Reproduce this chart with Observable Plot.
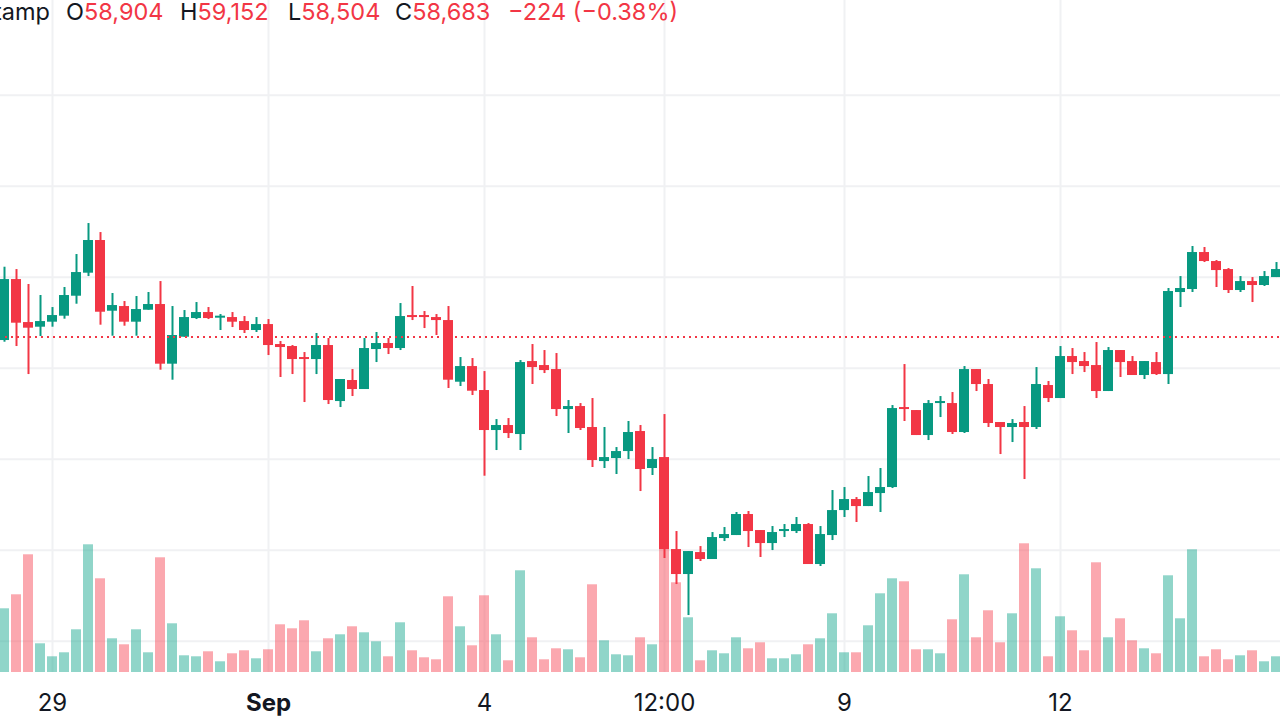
<!DOCTYPE html>
<html><head><meta charset="utf-8">
<script src="https://cdn.jsdelivr.net/npm/d3@7"></script>
<script src="https://cdn.jsdelivr.net/npm/@observablehq/plot@0.6"></script>
<style>
html,body{margin:0;padding:0;background:#fff;overflow:hidden;}
#wrap{position:relative;width:1280px;height:720px;font-family:Inter,sans-serif;overflow:hidden;}
#wrap svg{position:absolute;left:0;top:0;}
#legend{position:absolute;left:0;top:0;width:1280px;height:34px;font-size:23.5px;line-height:24px;z-index:5;color:#131722;}
#legend span.item{position:absolute;top:0;white-space:nowrap;}
.r{color:#F23645}
</style></head><body><div id="wrap"><div id="legend"></div></div>
<script>
// ---- data (4h candles, Bitstamp BTC) ----
const START = Date.UTC(2024, 7, 28, 8);   // first candle: Aug 28 08:00 UTC
const STEP = 4 * 3600 * 1000;             // 4-hour candles

const open = [58608,59948,59003,58901,59011,59143,59582,60088,60806,59252,59355,59011,59274,59399,58088,58681,59091,59223,59099,59113,
59025,58828,58959,58520,58476,58234,58190,58498,57267,57729,57531,58410,58542,58432,59157,59157,59113,59047,57692,58036,
57509,56630,56740,56542,58146,58058,57970,57091,57157,56696,55948,56014,56168,56608,55795,56036,54014,53465,53948,53795,
54256,54322,54784,54432,54146,54410,54410,54564,53685,54322,54871,55113,54959,55245,55377,57135,57069,56520,57223,57223,
56586,57970,57641,56806,56696,56806,56696,57619,57333,58256,58146,58058,57487,58388,58146,57839,58124,57860,59663,59729,
60542,60344,60168,59707,59904,59817,59992];
const high = [60219,60168,59839,59597,59333,59773,60498,61179,60981,59641,59465,59575,59663,59904,59355,59267,59443,59333,59179,59223,
59135,59113,59069,58586,58498,58344,58762,58652,57751,57970,58652,58784,58652,59421,59795,59245,59179,59355,58234,58212,
57926,56871,56893,58168,58520,58388,58322,57289,57223,57333,56696,56256,56828,56740,56256,56981,54410,53970,54080,54388,
54498,54828,54850,54432,54520,54564,54718,54586,54520,55311,55377,55157,55619,55795,57179,58080,57069,57289,57377,57465,
58036,57970,57751,56806,56871,57157,58014,57707,58476,58432,58344,58564,58454,58388,58256,58146,58344,59751,60014,60674,
60652,60366,60190,60014,59992,60124,60322];
const low = [58571,58476,57860,58696,58901,59077,59406,60014,58945,58703,58923,58703,59274,57956,57736,58681,59069,59069,58828,58893,
58762,58784,58278,57795,57860,57245,57860,57201,57135,57377,57531,58124,58300,58388,59047,58871,58718,57553,57597,57399,
55626,56190,56454,56190,57641,57882,56937,56564,56630,55817,55795,55663,55992,55289,55641,53817,53245,52564,53751,53795,
54190,54322,54058,53839,53992,54278,54366,53685,53641,54212,54718,54608,54959,54828,55355,56828,56520,56410,56915,56542,
56564,57487,56696,56102,56366,55553,56652,57245,57333,57860,57904,57333,57487,57795,57839,57751,57839,57641,59333,59663,
60322,59773,59641,59663,59443,59795,59992];
const close = [59948,58989,58879,59025,59157,59597,60102,60806,59230,59377,59011,59289,59399,58088,58718,59113,59223,59091,59143,59011,
58828,58959,58498,58454,58190,58190,58498,57289,57751,57531,58432,58542,58432,59135,59113,59113,59047,57736,58036,57494,
56630,56740,56564,58124,58014,57948,57091,57157,56674,55970,56036,56168,56586,55773,55992,54014,53465,53970,53795,54278,
54344,54784,54410,54146,54388,54454,54564,53685,54344,54871,55113,54959,55267,55377,57113,57091,56520,57223,57267,56586,
57970,57641,56784,56696,56784,56696,57641,57333,58256,58124,58036,57487,58388,58124,57839,58146,57860,59685,59751,60542,
60344,60146,59707,59904,59817,60014,60168];
const volume = [637,777,1177,287,157,197,427,1277,937,337,277,427,197,1147,487,167,157,207,107,187,
217,137,227,477,437,517,207,337,377,457,397,307,157,497,217,147,127,757,457,267,
767,377,117,1017,347,127,237,227,147,877,317,177,167,347,277,1233,897,547,117,217,
187,347,237,297,137,137,177,277,337,587,197,197,467,787,937,907,227,227,187,527,
977,347,617,297,587,1287,1037,157,557,417,217,1097,347,537,317,237,187,967,537,1227,
157,227,127,167,217,107,157];

const lastPrice = 58683;                      // dotted price line
const gridPrices = [52000, 54000, 56000, 58000, 60000, 62000, 64000];
const tickDates = [Date.UTC(2024,7,29), Date.UTC(2024,8,1), Date.UTC(2024,8,4), Date.UTC(2024,8,6,12), Date.UTC(2024,8,9), Date.UTC(2024,8,12)];
const tickLabels = ["29", "Sep", "4", "12:00", "9", "12"];
const tickBold = [false, true, false, false, false, false];

const legendPrefix = "Bitstamp";
const legendKeys = ["O", "H", "L", "C"];
const legendValues = ["58,904", "59,152", "58,504", "58,683"];
const legendChange = "\u2212224 (\u22120.38%)";

// ---- build ----
const UP = "#089981", DOWN = "#F23645";
const data = open.map((o, i) => ({t: new Date(START + i * STEP), o, h: high[i], l: low[i], c: close[i], v: volume[i], up: close[i] >= o}));
const ups = data.filter(d => d.up), downs = data.filter(d => !d.up);
const HALF = 100 * 60 * 1000; // half body width in time
const bx1 = d => new Date(+d.t - HALF), bx2 = d => new Date(+d.t + HALF);
const ticks = tickDates.map((d, i) => ({date: new Date(d), label: tickLabels[i], bold: tickBold[i]}));

const xDomain = [new Date(Date.UTC(2024,7,28,6,40)), new Date(Date.UTC(2024,8,15,1,20))];
const yDomain = [51312, 66081];
const common = {width: 1280, height: 720, marginLeft: 0, marginRight: 0, marginTop: 0, marginBottom: 48,
  x: {type: "utc", domain: xDomain, axis: null},
  style: {background: "transparent", fontFamily: "Inter, sans-serif", overflow: "visible"}};
const GRID = "#f0f1f3";

const base = Plot.plot({...common,
  y: {domain: yDomain, axis: null},
  marks: [
    Plot.gridX(ticks.map(d => d.date), {stroke: GRID, strokeOpacity: 1, strokeWidth: 2}),
    Plot.gridY(gridPrices, {stroke: GRID, strokeOpacity: 1, strokeWidth: 2}),
    Plot.text(ticks.filter(d => !d.bold), {x: "date", text: "label", frameAnchor: "bottom", dy: 31, lineAnchor: "middle", fontSize: 24, fill: "#131722"}),
    Plot.text(ticks.filter(d => d.bold), {x: "date", text: "label", frameAnchor: "bottom", dy: 31, lineAnchor: "middle", fontSize: 24, fontWeight: "bold", fill: "#131722"})
  ]});

const vol = Plot.plot({...common,
  y: {domain: [0, 6720], axis: null},
  marks: [
    Plot.rectY(ups, {x1: bx1, x2: bx2, y: "v", fill: "#22ab94", fillOpacity: 0.5}),
    Plot.rectY(downs, {x1: bx1, x2: bx2, y: "v", fill: "#f7525f", fillOpacity: 0.5})
  ]});

const candles = Plot.plot({...common,
  y: {domain: yDomain, axis: null},
  marks: [
    Plot.ruleX(ups, {x: "t", y1: "l", y2: "h", stroke: UP, strokeWidth: 2}),
    Plot.ruleX(downs, {x: "t", y1: "l", y2: "h", stroke: DOWN, strokeWidth: 2}),
    Plot.rect(ups, {x1: bx1, x2: bx2, y1: "o", y2: "c", fill: UP}),
    Plot.rect(downs, {x1: bx1, x2: bx2, y1: "o", y2: "c", fill: DOWN}),
    Plot.ruleY([lastPrice], {x1: new Date(Date.UTC(2024,7,28,8,20)), x2: xDomain[1], stroke: DOWN, strokeWidth: 2, strokeDasharray: "2,4"})
  ]});

const wrap = document.getElementById("wrap");
wrap.insertBefore(candles, wrap.firstChild);
wrap.insertBefore(vol, candles);
wrap.insertBefore(base, vol);

// legend
const legend = document.getElementById("legend");
function addSpan(html, left, right) {
  const s = document.createElement("span");
  s.className = "item";
  s.innerHTML = html;
  if (right != null) s.style.right = right + "px"; else s.style.left = left + "px";
  legend.appendChild(s);
}
const legendX = [66, 180, 288, 395];
addSpan(legendPrefix, null, 1280 - 50);
legendKeys.forEach((k, i) => addSpan(k + '<span class="r">' + legendValues[i] + '</span>', legendX[i]));
addSpan('<span class="r">' + legendChange + '</span>', 508);
</script>
</body></html>
